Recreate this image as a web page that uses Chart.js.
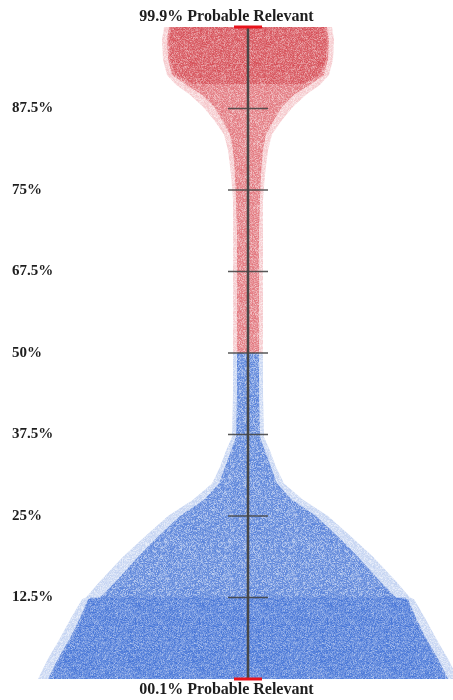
<!DOCTYPE html>
<html>
<head>
<meta charset="utf-8">
<script src="https://cdn.jsdelivr.net/npm/chart.js@4"></script>
<style>
  body { margin: 0; background: #fff; }
</style>
</head>
<body>
<canvas id="violin" width="453" height="700"></canvas>
<script>
(function () {
    "use strict";

    // Axis labels, bottom to top (equal spacing on the axis)
    const levelLabels = ["00.1%", "12.5%", "25%", "37.5%", "50%", "67.5%", "75%", "87.5%", "99.9%"];

    // Relevant half (red): position on axis, outer spread, dense core spread
    const redLevels = [4.0, 4.5, 5.0, 5.5, 5.88, 6.19, 6.49, 6.68, 6.86, 7.02, 7.17, 7.29, 7.41, 7.6, 7.84, 8.0];
    const redOuter  = [15, 15, 15, 15, 15, 17, 20, 24, 34, 45, 58, 72, 81, 85, 86, 84];
    const redCore   = [11, 11, 11, 11, 12, 13, 15, 18, 26, 34, 46, 62, 76, 80, 81, 79];

    // Not relevant half (blue)
    const blueLevels = [0.0, 0.25, 0.5, 0.75, 0.98, 1.0, 1.2, 1.5, 1.75, 2.0, 2.2, 2.4, 2.6, 2.8, 2.97, 3.5, 4.0];
    const blueOuter  = [210, 200, 188, 177, 166, 162, 148, 125, 103, 80, 55, 36, 28, 22, 16, 15, 15];
    const blueCore   = [200, 190, 178, 168, 160, 148, 132, 110, 90, 68, 44, 29, 23, 17, 12, 11, 11];

    // dense bottom band (below 12.5%)
    const blueDenseLevels = [0.0, 0.25, 0.5, 0.75, 1.0];
    const blueDense       = [198, 188, 176, 166, 158];
    // dense top blob
    const redDenseLevels = [7.3, 7.41, 7.6, 7.84, 8.0];
    const redDense       = [55, 72, 78, 79, 77];

    const tickLevels = [1, 2, 3, 4, 5, 6, 7];
    const endLevels = [0, 8];

    function hash(n) {
        n = Math.imul(n ^ (n >>> 16), 0x45d9f3b);
        n = Math.imul(n ^ (n >>> 16), 0x45d9f3b);
        n = n ^ (n >>> 16);
        return (n >>> 0) / 4294967296;
    }

    // speckled fill texture
    function speckle(r, g, b, a, seed) {
        const size = 64;
        const c = document.createElement("canvas");
        c.width = c.height = size;
        const cx = c.getContext("2d");
        const img = cx.createImageData(size, size);
        for (let i = 0; i < size * size; i++) {
            const h = hash(Math.imul(i + 1, 2654435761) ^ seed);
            const w = h * h * 0.6;
            img.data[i * 4] = r + (255 - r) * w;
            img.data[i * 4 + 1] = g + (255 - g) * w;
            img.data[i * 4 + 2] = b + (255 - b) * w;
            img.data[i * 4 + 3] = 255 * a * (0.75 + 0.25 * hash(Math.imul(i + 7, 40503) ^ (seed * 977)));
        }
        cx.putImageData(img, 0, 0);
        return cx.createPattern(c, "repeat");
    }

    function outline(levels, halves) {
        const right = levels.map((y, i) => ({ x: halves[i], y: y }));
        const left = levels.map((y, i) => ({ x: -halves[i], y: y })).reverse();
        return right.concat(left);
    }

    function area(levels, halves, fillStyle, order) {
        return {
            data: outline(levels, halves),
            showLine: true,
            fill: "shape",
            backgroundColor: fillStyle,
            borderWidth: 0,
            pointRadius: 0,
            tension: 0,
            order: order,
        };
    }

    const serif = "'Liberation Serif', 'Times New Roman', serif";

    const ctx = document.getElementById("violin").getContext("2d");

    new Chart(ctx, {
        type: "scatter",
        data: {
            datasets: [
                {
                    data: endLevels.map((y) => ({ x: 0, y: y })),
                    pointStyle: "line",
                    pointRadius: 14,
                    pointBorderWidth: 3,
                    pointBorderColor: "#e8141c",
                    showLine: false,
                    clip: false,
                    order: 0,
                },
                {
                    data: tickLevels.map((y) => ({ x: 0, y: y })),
                    pointStyle: "line",
                    pointRadius: 20,
                    pointBorderWidth: 1.5,
                    pointBorderColor: "rgba(70,70,70,0.9)",
                    showLine: false,
                    order: 1,
                },
                {
                    data: endLevels.map((y) => ({ x: 0, y: y })),
                    showLine: true,
                    borderColor: "#474747",
                    borderWidth: 2.5,
                    pointRadius: 0,
                    order: 2,
                },
                area(blueDenseLevels, blueDense, speckle(40, 95, 210, 0.5, 11), 3),
                area(redDenseLevels, redDense, speckle(200, 35, 45, 0.55, 17), 3),
                area(blueLevels, blueCore, speckle(55, 105, 210, 0.8, 23), 4),
                area(redLevels, redCore, speckle(210, 50, 60, 0.6, 29), 4),
                area(blueLevels, blueOuter, speckle(80, 125, 215, 0.35, 31), 5),
                area(redLevels, redOuter, speckle(225, 90, 100, 0.35, 37), 5),
            ],
        },
        options: {
            responsive: false,
            animation: false,
            devicePixelRatio: 1,
            layout: { padding: 0, autoPadding: false },
            scales: {
                x: {
                    type: "linear",
                    min: -248,
                    max: 205,
                    display: false,
                },
                y: {
                    type: "linear",
                    position: "left",
                    min: 0,
                    max: 8,
                    grid: { display: false },
                    border: { display: false },
                    afterFit: (scale) => { scale.width = 0; },
                    ticks: {
                        stepSize: 1,
                        mirror: true,
                        padding: 12,
                        color: "#1e1e1e",
                        font: { family: serif, size: 15, weight: "bold" },
                        callback: (value) =>
                            value > 0 && value < 8 ? levelLabels[value] : "",
                    },
                },
            },
            plugins: {
                legend: { display: false },
                tooltip: { enabled: false },
                title: {
                    display: true,
                    text: levelLabels[8] + " Probable Relevant",
                    position: "top",
                    color: "#1e1e1e",
                    font: { family: serif, size: 16, weight: "bold", lineHeight: 1 },
                    padding: { top: 9, bottom: 2 },
                },
                subtitle: {
                    display: true,
                    text: levelLabels[0] + " Probable Relevant",
                    position: "bottom",
                    color: "#1e1e1e",
                    font: { family: serif, size: 16, weight: "bold", lineHeight: 1 },
                    padding: { top: 3, bottom: 0 },
                },
            },
        },
    });
})();
</script>
</body>
</html>
